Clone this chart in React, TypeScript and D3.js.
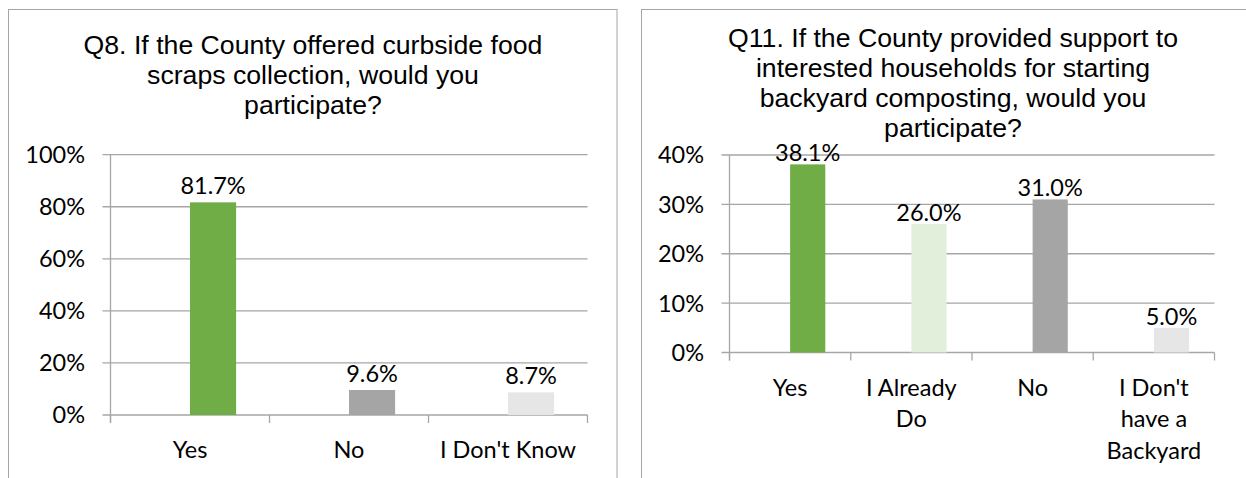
import React from "react";
import * as d3 from "d3";

// ---------- Data ----------
const q8Title = ["Q8. If the County offered curbside food", "scraps collection, would you", "participate?"];
const q8Categories = ["Yes", "No", "I Don't Know"];
const q8Values = [81.7, 9.6, 8.7];
const q8Colors = ["#70AD47", "#A5A5A5", "#E7E6E6"];
const q8Ticks = [0, 20, 40, 60, 80, 100];

const q11Title = [
  "Q11. If the County provided support to",
  "interested households for starting",
  "backyard composting, would you",
  "participate?",
];
const q11Categories = ["Yes", "I Already\nDo", "No", "I Don't\nhave a\nBackyard"];
const q11Values = [38.1, 26.0, 31.0, 5.0];
const q11Colors = ["#70AD47", "#E2EFDA", "#A5A5A5", "#E7E6E6"];
const q11Ticks = [0, 10, 20, 30, 40];

const LABEL_FONT = "Lato, Carlito, Calibri, sans-serif";
const TITLE_FONT = "'Liberation Sans', Arial, sans-serif";
const GRID = "#A6A6A6";

type ChartProps = {
  box: { x: number; y: number; w: number; h: number };
  plot: { left: number; right: number; top: number; bottom: number };
  title: string[];
  titleCx: number;
  titleY: number;
  categories: string[];
  values: number[];
  colors: string[];
  ticks: number[];
  labelGap: number;
};

function BarChart(p: ChartProps) {
  const x = d3
    .scaleBand<string>()
    .domain(p.categories)
    .range([p.plot.left, p.plot.right])
    .paddingInner(0)
    .paddingOuter(0);
  const yMax = d3.max(p.ticks) as number;
  const y = d3.scaleLinear().domain([0, yMax]).range([p.plot.bottom, p.plot.top]);
  const bw = x.bandwidth() * 0.29;
  const fs = 23.5;
  const lineH = 31.5;
  const boundaries = p.categories.map((c) => x(c) as number).concat([p.plot.right]);

  return (
    <g>
      <rect x={p.box.x} y={p.box.y} width={p.box.w} height={p.box.h} fill="#fff" stroke="#A6A6A6" strokeWidth={1} />
      {p.title.map((t, i) => (
        <text
          key={i}
          x={p.titleCx}
          y={p.titleY + i * 30}
          textAnchor="middle"
          fontFamily={TITLE_FONT}
          fontSize={26.67}
          fill="#000"
        >
          {t}
        </text>
      ))}
      {/* gridlines & y ticks */}
      {p.ticks.map((t) => (
        <g key={t}>
          <line x1={p.plot.left - 8} x2={p.plot.right} y1={y(t)} y2={y(t)} stroke={GRID} strokeWidth={1.3} />
          <text
            x={p.plot.left - 25.5}
            y={y(t)}
            dy="0.36em"
            textAnchor="end"
            fontFamily={LABEL_FONT}
            fontSize={fs}
            fill="#000"
          >
            {t + "%"}
          </text>
        </g>
      ))}
      {/* y axis */}
      <line x1={p.plot.left} x2={p.plot.left} y1={p.plot.top} y2={p.plot.bottom + 8} stroke={GRID} strokeWidth={1.3} />
      {/* x ticks */}
      {boundaries.map((b, i) => (
        <line key={i} x1={b} x2={b} y1={p.plot.bottom} y2={p.plot.bottom + 8} stroke={GRID} strokeWidth={1.3} />
      ))}
      {/* bars */}
      {p.categories.map((c, i) => {
        const cx = (x(c) as number) + x.bandwidth() / 2;
        return (
          <g key={c}>
            <rect x={cx} y={y(p.values[i])} width={bw} height={p.plot.bottom - y(p.values[i])} fill={p.colors[i]} />
            <text
              x={cx + bw / 2}
              y={y(p.values[i]) - p.labelGap}
              textAnchor="middle"
              fontFamily={LABEL_FONT}
              fontSize={fs}
              fill="#000"
            >
              {p.values[i].toFixed(1) + "%"}
            </text>
          </g>
        );
      })}
      {/* category labels */}
      {p.categories.map((c) => {
        const cx = (x(c) as number) + x.bandwidth() / 2;
        return (
          <text key={c} textAnchor="middle" fontFamily={LABEL_FONT} fontSize={fs} fill="#000">
            {c.split("\n").map((ln, j) => (
              <tspan key={j} x={cx} y={p.plot.bottom + 43 + j * lineH}>
                {ln}
              </tspan>
            ))}
          </text>
        );
      })}
    </g>
  );
}

export default function App() {
  return (
    <svg
      width={1246}
      height={478}
      style={{ position: "absolute", left: 0, top: 0, background: "#fff" }}
    >
      <rect x={0} y={0} width={1246} height={478} fill="#fff" />
      <BarChart
        box={{ x: 8.5, y: 9.5, w: 608.5, h: 480 }}
        plot={{ left: 110.5, right: 587.5, top: 154.7, bottom: 415 }}
        title={q8Title}
        titleCx={313}
        titleY={54}
        categories={q8Categories}
        values={q8Values}
        colors={q8Colors}
        ticks={q8Ticks}
        labelGap={8}
      />
      <BarChart
        box={{ x: 641.5, y: 9.5, w: 624, h: 480 }}
        plot={{ left: 729.5, right: 1214.5, top: 155, bottom: 352.5 }}
        title={q11Title}
        titleCx={953}
        titleY={47}
        categories={q11Categories}
        values={q11Values}
        colors={q11Colors}
        ticks={q11Ticks}
        labelGap={3}
      />
    </svg>
  );
}
